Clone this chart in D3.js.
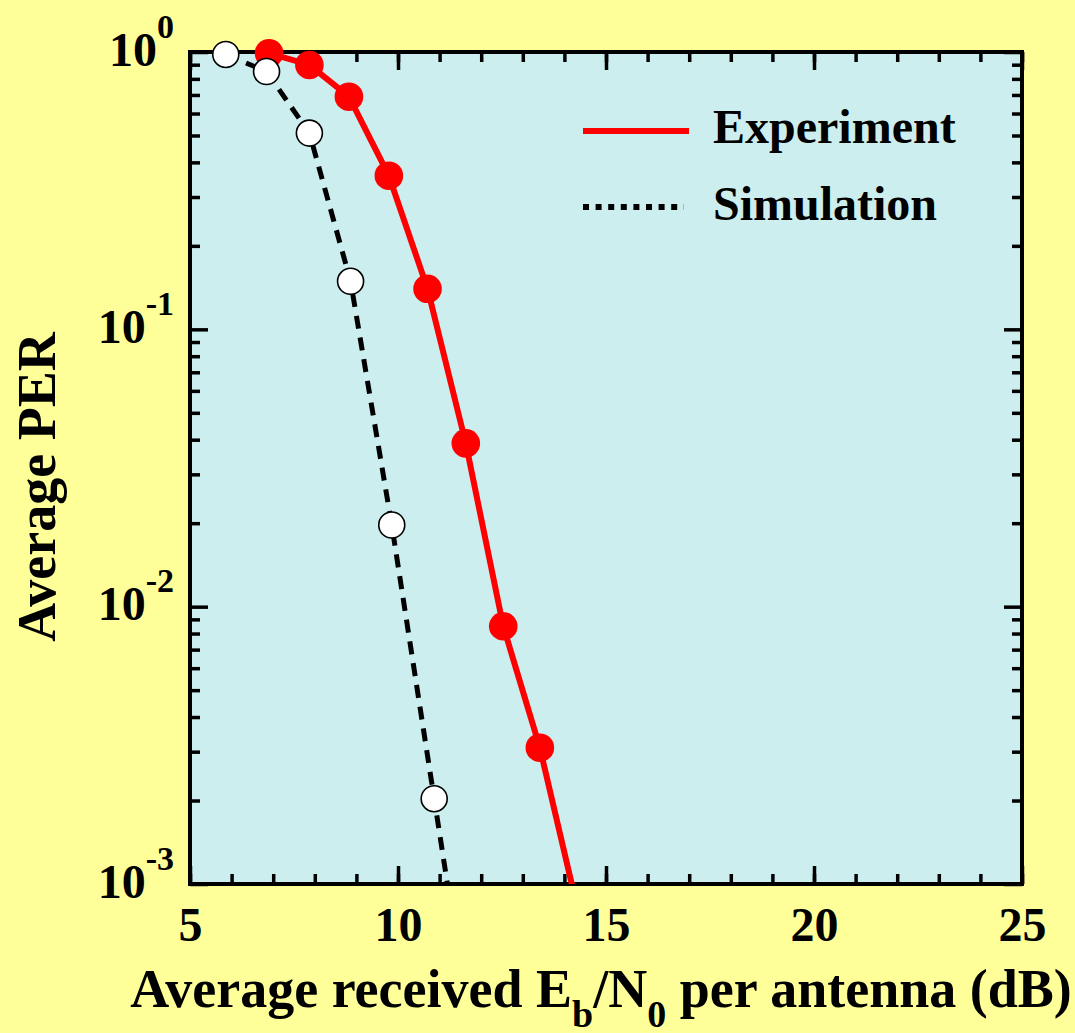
<!DOCTYPE html>
<html>
<head>
<meta charset="utf-8">
<script src="https://cdn.jsdelivr.net/npm/d3@7"></script>
<style>
  html, body { margin: 0; padding: 0; background: #ffff99; }
  svg { display: block; }
  text { font-family: "Liberation Serif", "Times New Roman", serif; font-weight: bold; fill: #000; }
</style>
</head>
<body>
<svg id="chart" width="1075" height="1033"></svg>
<script>
// Eb/N0 (dB) and packet error rate for each curve
const simEbN0 = [5.86, 6.84, 7.87, 8.86, 9.85, 10.87, 11.5];
const simPER  = [0.98, 0.85, 0.51, 0.149, 0.0197, 0.00203, 0.0005];
const expEbN0 = [6.9, 7.87, 8.82, 9.78, 10.71, 11.63, 12.53, 13.41, 14.4];
const expPER  = [0.99, 0.898, 0.69, 0.358, 0.14, 0.0388, 0.0085, 0.0031, 0.00072];

const xMajorTicks = [5, 10, 15, 20, 25];
const xMinorTicks = d3.range(5, 26, 1);
const yDecades = [1e-3, 1e-2, 1e-1, 1];
const yMinorTicks = [1e-3, 1e-2, 1e-1].flatMap(d => d3.range(2, 10).map(k => k * d));
const legendLabels = ["Experiment", "Simulation"];
const xTitleParts = ["Average received E", "b", "/N", "0", " per antenna (dB)"];
const yTitle = "Average PER";

const W = 1075, H = 1033;
const plot = { left: 190, right: 1022, top: 52, bottom: 884 };

const svg = d3.select("#chart");
svg.append("rect").attr("width", W).attr("height", H).attr("fill", "#ffff99");

const x = d3.scaleLinear().domain([5, 25]).range([plot.left, plot.right]);
const y = d3.scaleLog().domain([1e-3, 1]).range([plot.bottom, plot.top]);

// plot background
svg.append("rect")
  .attr("x", plot.left).attr("y", plot.top)
  .attr("width", plot.right - plot.left).attr("height", plot.bottom - plot.top)
  .attr("fill", "#cceeee");

svg.append("clipPath").attr("id", "plotClip")
  .append("rect")
  .attr("x", plot.left).attr("y", plot.top)
  .attr("width", plot.right - plot.left).attr("height", plot.bottom - plot.top);

// axes: inward ticks on all four sides
function styleAxis(g) {
  g.select(".domain").remove();
  g.selectAll(".tick line").attr("stroke", "#000").attr("stroke-width", 3.5);
}
const MAJ = 18, MIN = 10;

// bottom
svg.append("g").attr("transform", `translate(0,${plot.bottom})`)
  .call(d3.axisBottom(x).tickValues(xMinorTicks).tickSize(-MIN).tickFormat(""))
  .call(styleAxis);
const xb = svg.append("g").attr("transform", `translate(0,${plot.bottom})`)
  .call(d3.axisBottom(x).tickValues(xMajorTicks).tickSize(-MAJ).tickPadding(0).tickFormat(d3.format("d")))
  .call(styleAxis);
xb.selectAll(".tick text")
  .attr("y", 57).attr("dy", null)
  .attr("font-size", 48)
  .style("font-family", '"Liberation Serif", "Times New Roman", serif')
  .style("font-weight", "bold");

// top
svg.append("g").attr("transform", `translate(0,${plot.top})`)
  .call(d3.axisTop(x).tickValues(xMinorTicks).tickSize(-MIN).tickFormat(""))
  .call(styleAxis);
svg.append("g").attr("transform", `translate(0,${plot.top})`)
  .call(d3.axisTop(x).tickValues(xMajorTicks).tickSize(-MAJ).tickFormat(""))
  .call(styleAxis);

// left
svg.append("g").attr("transform", `translate(${plot.left},0)`)
  .call(d3.axisLeft(y).tickValues(yMinorTicks).tickSize(-MIN).tickFormat(""))
  .call(styleAxis);
const yl = svg.append("g").attr("transform", `translate(${plot.left},0)`)
  .call(d3.axisLeft(y).tickValues(yDecades).tickSize(-MAJ).tickPadding(16).tickFormat(() => ""))
  .call(styleAxis);
yl.selectAll(".tick text").each(function(d) {
  const t = d3.select(this)
    .attr("y", 13).attr("dy", null)
    .attr("text-anchor", "end")
    .style("font-family", '"Liberation Serif", "Times New Roman", serif')
    .style("font-weight", "bold");
  t.append("tspan").attr("font-size", 48).text("10");
  t.append("tspan").attr("font-size", 34).attr("dy", -28).text(String(Math.round(Math.log10(d))));
});

// right
svg.append("g").attr("transform", `translate(${plot.right},0)`)
  .call(d3.axisRight(y).tickValues(yMinorTicks).tickSize(-MIN).tickFormat(""))
  .call(styleAxis);
svg.append("g").attr("transform", `translate(${plot.right},0)`)
  .call(d3.axisRight(y).tickValues(yDecades).tickSize(-MAJ).tickFormat(""))
  .call(styleAxis);

// frame
svg.append("rect")
  .attr("x", plot.left).attr("y", plot.top)
  .attr("width", plot.right - plot.left).attr("height", plot.bottom - plot.top)
  .attr("fill", "none").attr("stroke", "#000").attr("stroke-width", 4);

// curves
const expData = expEbN0.map((v, i) => ({ x: v, y: expPER[i] }));
const simData = simEbN0.map((v, i) => ({ x: v, y: simPER[i] }));
const line = d3.line().x(d => x(d.x)).y(d => y(d.y));

const curves = svg.append("g").attr("clip-path", "url(#plotClip)");
curves.append("path").datum(expData)
  .attr("d", line).attr("fill", "none")
  .attr("stroke", "#ff0000").attr("stroke-width", 6).attr("stroke-linejoin", "round");
curves.append("path").datum(simData)
  .attr("d", line).attr("fill", "none")
  .attr("stroke", "#000").attr("stroke-width", 5).attr("stroke-dasharray", "13,9");

const inRange = d => d.y >= 1e-3 && d.y <= 1.05;
svg.append("g").selectAll("circle").data(expData.filter(inRange)).join("circle")
  .attr("cx", d => x(d.x)).attr("cy", d => y(d.y)).attr("r", 14.3)
  .attr("fill", "#ff0000");
svg.append("g").selectAll("circle").data(simData.filter(inRange)).join("circle")
  .attr("cx", d => x(d.x)).attr("cy", d => y(d.y)).attr("r", 13)
  .attr("fill", "#fff").attr("stroke", "#000").attr("stroke-width", 1.6);

// legend
const lg = svg.append("g");
lg.append("line").attr("x1", 583).attr("x2", 689).attr("y1", 131).attr("y2", 131)
  .attr("stroke", "#ff0000").attr("stroke-width", 6);
lg.append("line").attr("x1", 583).attr("x2", 684).attr("y1", 207).attr("y2", 207)
  .attr("stroke", "#000").attr("stroke-width", 6).attr("stroke-dasharray", "6,6.6");
lg.selectAll("text").data(legendLabels).join("text")
  .attr("x", 713).attr("y", (d, i) => 143 + i * 77)
  .attr("font-size", 48).text(d => d);

// axis titles
const xt = svg.append("text").attr("x", 601).attr("y", 1007)
  .attr("text-anchor", "middle").attr("font-size", 54);
xt.append("tspan").text(xTitleParts[0]);
xt.append("tspan").attr("font-size", 38).attr("dy", 20).text(xTitleParts[1]);
xt.append("tspan").attr("dy", -20).text(xTitleParts[2]);
xt.append("tspan").attr("font-size", 38).attr("dy", 20).text(xTitleParts[3]);
xt.append("tspan").attr("dy", -20).text(xTitleParts[4]);

svg.append("text")
  .attr("transform", "translate(55,487) rotate(-90)")
  .attr("text-anchor", "middle").attr("font-size", 54)
  .text(yTitle);
</script>
</body>
</html>
